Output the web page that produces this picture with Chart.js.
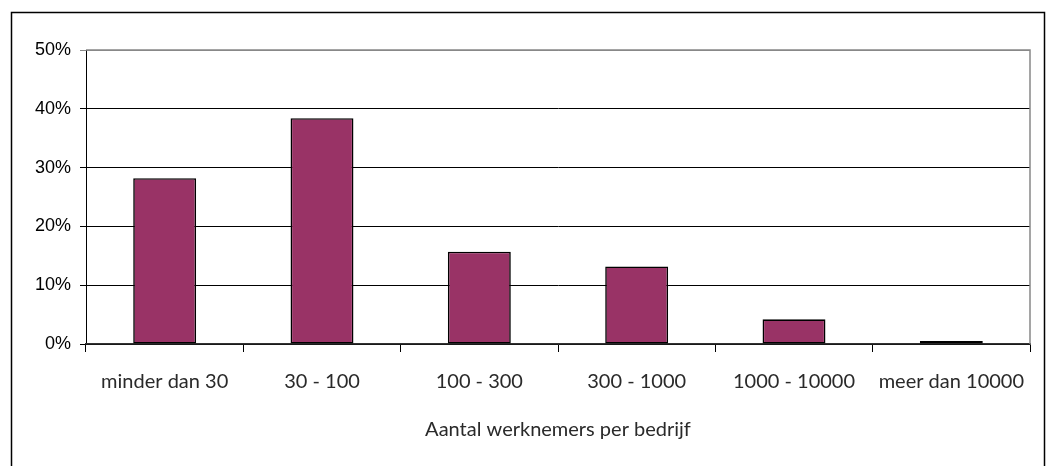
<!DOCTYPE html>
<html>
<head>
<meta charset="utf-8">
<script src="https://cdn.jsdelivr.net/npm/chart.js@4/dist/chart.umd.min.js"></script>
<style>
html,body{margin:0;padding:0;background:#fff;}
#wrap{width:1050px;height:466px;position:relative;}
</style>
</head>
<body>
<div id="wrap"><canvas id="c" width="1050" height="466"></canvas></div>
<script>
const categories = ["minder dan 30", "30 - 100", "100 - 300", "300 - 1000", "1000 - 10000", "meer dan 10000"];
const percentages = [28.2, 38.4, 15.7, 13.2, 4.2, 0.5];
const yTicks = [0, 10, 20, 30, 40, 50];
const xTitle = "Aantal werknemers per bedrijf";

const framePlugin = {
  id: 'frame',
  beforeDraw(chart) {
    const ctx = chart.ctx;
    ctx.save();
    ctx.fillStyle = '#fff';
    ctx.fillRect(0, 0, chart.width, chart.height);
    ctx.strokeStyle = '#000';
    ctx.lineWidth = 1.5;
    ctx.strokeRect(11.5, 12.5, 1033, 480);
    ctx.restore();
  },
  afterDraw(chart) {
    const a = chart.chartArea;
    const ctx = chart.ctx;
    ctx.save();
    ctx.strokeStyle = '#888';
    ctx.lineWidth = 1.5;
    ctx.beginPath();
    ctx.moveTo(a.left, a.top);
    ctx.lineTo(a.right, a.top);
    ctx.lineTo(a.right, a.bottom);
    ctx.stroke();
    ctx.restore();
  }
};

new Chart(document.getElementById('c'), {
  type: 'bar',
  data: {
    labels: categories,
    datasets: [{
      data: percentages,
      backgroundColor: '#993366',
      borderColor: '#000',
      borderWidth: 1.6,
      borderSkipped: false,
      categoryPercentage: 1.0,
      barPercentage: 0.4
    }]
  },
  options: {
    responsive: false,
    animation: false,
    devicePixelRatio: 1,
    layout: { padding: { top: 50, right: 20, left: 0, bottom: 0 } },
    plugins: { legend: { display: false }, tooltip: { enabled: false } },
    scales: {
      y: {
        min: 0, max: 50,
        afterBuildTicks(scale) { scale.ticks = yTicks.map(v => ({ value: v })); },
        afterFit(scale) { scale.width = 86; },
        ticks: {
          callback: v => v + '%',
          color: '#000',
          font: { family: 'Liberation Sans, Arial, sans-serif', size: 18 },
          padding: 9
        },
        grid: {
          color: ctx => (ctx.tick && ctx.tick.value === 50) ? '#888' : '#000',
          lineWidth: 1,
          tickLength: 6
        },
        border: { color: '#000', width: 1 }
      },
      x: {
        afterFit(scale) { scale.height = 122; },
        ticks: {
          color: '#2a2a2a',
          font: { family: 'Lato, sans-serif', size: 20 },
          padding: 18,
          maxRotation: 0,
          autoSkip: false
        },
        grid: {
          drawOnChartArea: false,
          color: '#000',
          tickLength: 8,
          offset: true
        },
        border: { color: '#333', width: 1.5 },
        title: {
          display: true,
          text: xTitle,
          color: '#2a2a2a',
          font: { family: 'Lato, sans-serif', size: 20 },
          padding: { top: 0, bottom: 24 }
        }
      }
    }
  },
  plugins: [framePlugin]
});
</script>
</body>
</html>
